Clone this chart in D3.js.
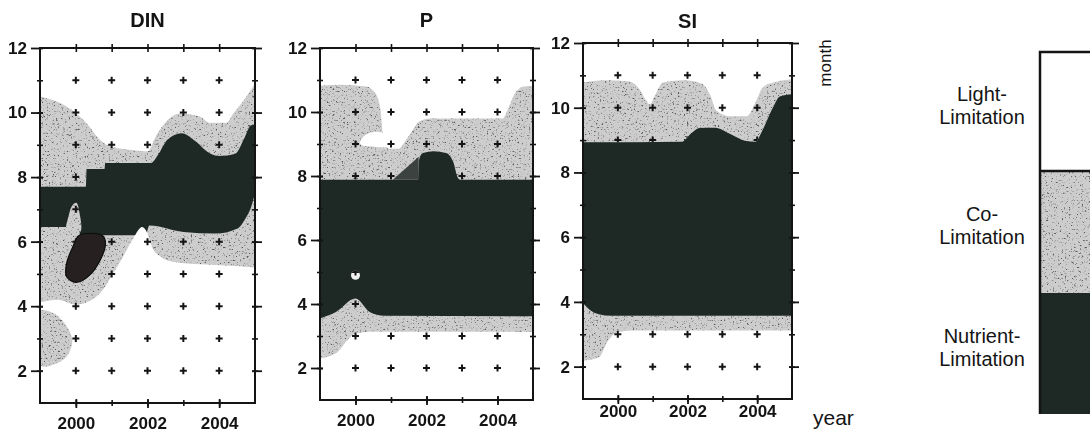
<!DOCTYPE html>
<html>
<head>
<meta charset="utf-8">
<script src="https://cdn.jsdelivr.net/npm/d3@7"></script>
<style>
  html, body { margin: 0; padding: 0; background: #fff; }
  svg { display: block; font-family: "Liberation Sans", Arial, sans-serif; }
</style>
</head>
<body>
<svg id="chart" width="1090" height="434"></svg>
<script>
// ---- axis values -------------------------------------------------------
const yearDomain = [1999, 2005];
const monthDomain = [1, 12];
const yearLabels = [2000, 2002, 2004];
const yearMinor = [2000, 2001, 2002, 2003, 2004];
const monthLabels = [2, 4, 6, 8, 10, 12];
const monthMinor = [2, 3, 4, 5, 6, 7, 8, 9, 10, 11];

// sampling grid shown as "+" marks
const gridYears = [2000, 2001, 2002, 2003, 2004];
const gridMonths = [2, 3, 4, 5, 6, 7, 8, 9, 10, 11];

// ---- DIN: region boundaries [year, month] ------------------------------
const dinCoTop = [[1999,10.5],[1999.75,10.18],[2000.3,9.67],[2000.68,9.15],[2000.96,8.95],[2001.5,8.85],[2002.0,8.8],[2002.25,9.3],[2002.55,9.75],[2002.9,9.97],[2003.45,9.88],[2003.75,9.68],[2004.2,9.68],[2004.4,9.98],[2004.7,10.4],[2005,10.9]];
const dinNutTop = [[1999,7.7],[2000.28,7.7],[2000.3,8.25],[2000.8,8.25],[2000.82,8.44],[2002.1,8.44],[2002.3,8.7],[2002.55,9.15],[2002.95,9.36],[2003.35,9.1],[2003.65,8.8],[2004.0,8.65],[2004.45,8.72],[2004.7,9.2],[2004.88,9.6],[2005,9.63]];
const dinNutBottom = [[1999,6.45],[2000.08,6.45],[2000.12,6.2],[2001.95,6.2],[2002.05,6.5],[2003,6.3],[2003.9,6.25],[2004.5,6.4],[2004.75,6.75],[2004.9,7.1],[2005,7.5]];
const dinCoBottom = [[1999,4.12],[1999.5,4.2],[2000,4.05],[2000.45,4.2],[2000.75,4.5],[2000.95,4.85],[2001.3,5.5],[2001.6,6.1],[2001.85,6.45],[2002.0,6.25],[2002.12,5.85],[2002.35,5.55],[2002.7,5.38],[2003.5,5.3],[2004.3,5.25],[2005,5.2]];
const dinCoPatch = [[1998.95,3.85],[1999.35,3.8],[1999.7,3.45],[1999.9,2.95],[1999.75,2.45],[1999.4,2.2],[1999.05,2.15],[1998.9,3.0]];
const dinCoTongue = [[1999.74,6.3],[1999.8,6.8],[1999.9,7.12],[2000.02,7.2],[2000.1,6.9],[2000.12,6.3]];
const dinNutCore = [[2000.1,6.2],[2000.75,6.18],[2000.82,5.85],[2000.42,5.0],[2000.0,4.74],[1999.74,4.92],[1999.74,5.32],[1999.92,5.85]];

// ---- P ------------------------------------------------------------------
const pCoTop = [[1999,10.82],[1999.6,10.85],[2000.3,10.8],[2000.55,10.6],[2000.7,10.1],[2000.76,9.4],[2000.82,9.0],[2000.95,8.85],[2001.2,8.85],[2001.5,9.25],[2001.8,9.7],[2002.1,9.8],[2004.15,9.8],[2004.3,10.1],[2004.5,10.6],[2004.75,10.8],[2005,10.82]];
const pNutTop = [[1999,7.88],[2001.76,7.88],[2001.8,8.55],[2001.9,8.72],[2002.2,8.77],[2002.55,8.72],[2002.75,8.45],[2002.88,7.95],[2002.95,7.88],[2005,7.88]];
const pNutBottom = [[1999,3.55],[1999.45,3.75],[2000,4.17],[2000.4,3.75],[2000.8,3.63],[2005,3.62]];
const pCoBottom = [[1999,2.3],[1999.45,2.46],[1999.77,2.87],[2000,3.08],[2000.4,3.13],[2005,3.13]];
const pLightBay = [[2000.12,9.05],[2000.3,9.3],[2000.6,9.38],[2000.85,9.3],[2001.0,9.0],[2000.85,8.9],[2000.45,8.92],[2000.2,8.95]];
const pNutWedge = [[2001.05,7.88],[2001.78,8.6],[2001.78,7.88]];
const pLightHoles = [[2000, 4.9]];

// ---- SI -----------------------------------------------------------------
const siCoTop = [[1999,10.78],[1999.6,10.85],[2000.3,10.82],[2000.6,10.6],[2000.8,10.25],[2000.92,10.1],[2001.05,10.35],[2001.3,10.78],[2001.9,10.85],[2002.4,10.75],[2002.65,10.4],[2002.82,9.92],[2003.2,9.74],[2003.7,9.74],[2003.97,10.2],[2004.16,10.63],[2004.55,10.8],[2005,10.88]];
const siNutTop = [[1999,8.93],[2001.85,8.95],[2002.1,9.2],[2002.35,9.37],[2002.8,9.38],[2003.2,9.2],[2003.65,8.98],[2003.95,8.95],[2004.15,9.3],[2004.45,10.0],[2004.65,10.35],[2005,10.42]];
const siNutBottom = [[1999,3.97],[1999.2,3.75],[1999.45,3.62],[1999.8,3.57],[2005,3.57]];
const siCoBottom = [[1999,2.18],[1999.45,2.28],[1999.72,2.8],[2000,3.07],[2000.4,3.12],[2005,3.12]];

// ---- legend -------------------------------------------------------------
const legendLabels = [["Light-", "Limitation"], ["Co-", "Limitation"], ["Nutrient-", "Limitation"]];

// ---- styling ------------------------------------------------------------
const INK = "#141414";
const DARK = "#1e2926";
const GREY = "#cdcdcd";
const CORE = "#262020";
const FONT = "Liberation Sans, Arial, sans-serif";

const svg = d3.select("#chart");
const defs = svg.append("defs");

// stippled grey fill: clumped dark specks over a light grey
const grain = defs.append("filter").attr("id", "grain")
  .attr("x", 0).attr("y", 0).attr("width", "100%").attr("height", "100%");
grain.append("feTurbulence").attr("type", "fractalNoise")
  .attr("baseFrequency", 0.55).attr("numOctaves", 3).attr("seed", 11).attr("result", "noise");
grain.append("feColorMatrix").attr("in", "noise").attr("type", "matrix")
  .attr("values", "0 0 0 0 0.1  0 0 0 0 0.1  0 0 0 0 0.1  5 0 0 0 -2.95")
  .attr("result", "dots");
grain.append("feComposite").attr("in", "dots").attr("in2", "SourceGraphic")
  .attr("operator", "in").attr("result", "clipped");
const merge = grain.append("feMerge");
merge.append("feMergeNode").attr("in", "SourceGraphic");
merge.append("feMergeNode").attr("in", "clipped");

const panels = [
  { title: "DIN", box: { L: 40, R: 255, T: 48, B: 403 }, pad: 9, titleY: 27,
    coTop: dinCoTop, nutTop: dinNutTop, nutBottom: dinNutBottom, coBottom: dinCoBottom },
  { title: "P", box: { L: 320, R: 533, T: 48, B: 400 }, pad: 8.5, titleY: 27,
    coTop: pCoTop, nutTop: pNutTop, nutBottom: pNutBottom, coBottom: pCoBottom },
  { title: "SI", box: { L: 583, R: 792, T: 43, B: 399 }, pad: 1, titleY: 28,
    coTop: siCoTop, nutTop: siNutTop, nutBottom: siNutBottom, coBottom: siCoBottom }
];

function crossTicks(g, axisFn, scale, values, outLen, inLen, width) {
  [outLen, -inLen].forEach(len => {
    const a = g.append("g").call(axisFn(scale).tickValues(values).tickSize(len)
      .tickSizeOuter(0).tickFormat(""));
    a.select(".domain").remove();
    a.selectAll("line").attr("stroke", INK).attr("stroke-width", width);
  });
}

panels.forEach((p, i) => {
  const { L, R, T, B } = p.box;
  const x = d3.scaleLinear().domain(yearDomain).range([L, R]);
  const y = d3.scaleLinear().domain(monthDomain).range([B, T]);

  const clipId = "clip" + i;
  defs.append("clipPath").attr("id", clipId)
    .append("rect").attr("x", L).attr("y", T).attr("width", R - L).attr("height", B - T);

  const g = svg.append("g").attr("clip-path", `url(#${clipId})`);

  const under = d3.area().curve(d3.curveMonotoneX)
    .x(d => x(d[0])).y0(y(monthDomain[0]) + 2).y1(d => y(d[1]));
  const blob = d3.line().curve(d3.curveCatmullRomClosed.alpha(0.5))
    .x(d => x(d[0])).y(d => y(d[1]));

  // co-limitation band, nutrient band, then light-limited floor
  g.append("path").attr("d", under(p.coTop)).attr("fill", GREY).attr("filter", "url(#grain)");
  g.append("path").attr("d", under(p.nutTop)).attr("fill", DARK);
  g.append("path").attr("d", under(p.nutBottom)).attr("fill", GREY).attr("filter", "url(#grain)");
  g.append("path").attr("d", under(p.coBottom)).attr("fill", "#fff");

  // mask that hides grid marks inside the nutrient-limited band
  const maskId = "mask" + i;
  const m = defs.append("mask").attr("id", maskId)
    .attr("maskUnits", "userSpaceOnUse").attr("x", 0).attr("y", 0)
    .attr("width", 1090).attr("height", 434);
  m.append("rect").attr("x", 0).attr("y", 0).attr("width", 1090).attr("height", 434).attr("fill", "#fff");
  m.append("path").attr("d", under(p.nutTop)).attr("fill", "#000");
  m.append("path").attr("d", under(p.nutBottom)).attr("fill", "#fff");

  if (p.title === "DIN") {
    g.append("path").attr("d", blob(dinCoPatch)).attr("fill", GREY).attr("filter", "url(#grain)");
    g.append("path").attr("d", blob(dinCoTongue)).attr("fill", GREY).attr("filter", "url(#grain)");
    g.append("path").attr("d", blob(dinNutCore)).attr("fill", CORE)
      .attr("stroke", "#0d0d0d").attr("stroke-width", 1.2);
    m.append("path").attr("d", blob(dinCoTongue)).attr("fill", "#fff");
    m.append("path").attr("d", blob(dinNutCore)).attr("fill", "#000");
  }
  if (p.title === "P") {
    g.append("path").attr("d", blob(pLightBay)).attr("fill", "#fff");
    g.append("path").attr("d", d3.line().x(d => x(d[0])).y(d => y(d[1]))(pNutWedge) + "Z")
      .attr("fill", "#3c423f");
    g.selectAll(".hole").data(pLightHoles).join("circle")
      .attr("cx", d => x(d[0])).attr("cy", d => y(d[1])).attr("r", 4.5)
      .attr("fill", "#f2f2f2");
    m.selectAll(".hole").data(pLightHoles).join("circle")
      .attr("cx", d => x(d[0])).attr("cy", d => y(d[1])).attr("r", 4.5).attr("fill", "#fff");
  }

  // sampling grid
  const pts = d3.cross(gridYears, gridMonths);
  g.append("g").attr("mask", `url(#${maskId})`)
    .selectAll("path").data(pts).join("path")
    .attr("transform", d => `translate(${x(d[0])},${y(d[1])})`)
    .attr("d", "M-3.5,0H3.5M0,-3.5V3.5")
    .attr("stroke", INK).attr("stroke-width", 2);

  // frame
  svg.append("rect").attr("x", L).attr("y", T).attr("width", R - L).attr("height", B - T)
    .attr("fill", "none").attr("stroke", INK).attr("stroke-width", 2);

  // ticks crossing every side
  crossTicks(svg.append("g").attr("transform", `translate(0,${B})`), d3.axisBottom, x, yearMinor, 3, 3, 1.6);
  crossTicks(svg.append("g").attr("transform", `translate(0,${B})`), d3.axisBottom, x, yearLabels, 5, 4, 1.8);
  crossTicks(svg.append("g").attr("transform", `translate(0,${T})`), d3.axisTop, x, yearMinor, 4, 4, 1.6);
  crossTicks(svg.append("g").attr("transform", `translate(${L},0)`), d3.axisLeft, y, monthMinor, 3, 3, 1.6);
  crossTicks(svg.append("g").attr("transform", `translate(${L},0)`), d3.axisLeft, y, monthLabels, 9, 3, 1.8);
  crossTicks(svg.append("g").attr("transform", `translate(${R},0)`), d3.axisRight, y, monthMinor, 3, 3, 1.6);
  crossTicks(svg.append("g").attr("transform", `translate(${R},0)`), d3.axisRight, y, monthLabels, 7, 3, 1.8);

  // tick labels
  const bx = svg.append("g").attr("transform", `translate(0,${B})`)
    .call(d3.axisBottom(x).tickValues(yearLabels).tickSize(5).tickPadding(p.pad)
      .tickFormat(d3.format("d")));
  bx.select(".domain").remove();
  bx.selectAll("line").remove();
  bx.selectAll("text").attr("font-size", 17).attr("font-weight", "bold")
    .attr("fill", INK).attr("font-family", FONT);

  const ly = svg.append("g").attr("transform", `translate(${L},0)`)
    .call(d3.axisLeft(y).tickValues(monthLabels).tickSize(9).tickPadding(4)
      .tickFormat(d3.format("d")));
  ly.select(".domain").remove();
  ly.selectAll("line").remove();
  ly.selectAll("text").attr("font-size", 17).attr("font-weight", "bold")
    .attr("fill", INK).attr("font-family", FONT);

  // panel title
  svg.append("text").attr("x", (L + R) / 2).attr("y", p.titleY)
    .attr("text-anchor", "middle").attr("font-size", 20).attr("font-weight", "bold")
    .attr("fill", INK).text(p.title);
});

// axis names
svg.append("text").attr("transform", "translate(831,63) rotate(-90)")
  .attr("text-anchor", "middle").attr("font-size", 17).attr("fill", INK).text("month");
svg.append("text").attr("x", 813).attr("y", 425)
  .attr("font-size", 21).attr("fill", INK).text("year");

// legend
const legendX = 1040, legendW = 70;
const legendBands = [
  { y0: 52, y1: 171, fill: "#fff", grain: false },
  { y0: 171, y1: 293, fill: GREY, grain: true },
  { y0: 293, y1: 414, fill: DARK, grain: false }
];
const lg = svg.append("g");
legendBands.forEach((b, k) => {
  const r = lg.append("rect").attr("x", legendX).attr("y", b.y0)
    .attr("width", legendW).attr("height", b.y1 - b.y0).attr("fill", b.fill);
  if (b.grain) r.attr("filter", "url(#grain)");
  const mid = (b.y0 + b.y1) / 2;
  const t = lg.append("text").attr("x", 982).attr("text-anchor", "middle")
    .attr("font-size", 20).attr("fill", INK);
  t.append("tspan").attr("x", 982).attr("y", mid - 11).text(legendLabels[k][0]);
  t.append("tspan").attr("x", 982).attr("y", mid + 12).text(legendLabels[k][1]);
});
lg.append("path")
  .attr("d", `M${legendX},414V52H${legendX + legendW}M${legendX},171H${legendX + legendW}`)
  .attr("fill", "none").attr("stroke", INK).attr("stroke-width", 2.5);
</script>
</body>
</html>
